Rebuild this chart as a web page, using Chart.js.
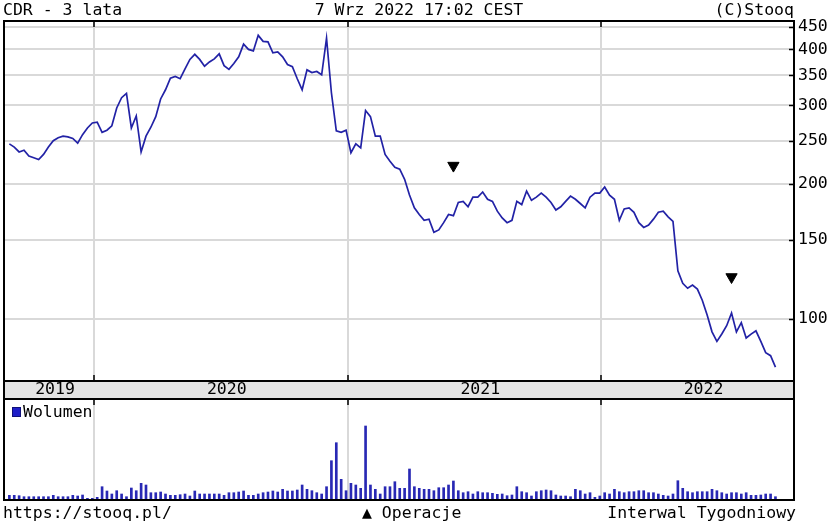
<!DOCTYPE html>
<html>
<head>
<meta charset="utf-8">
<script src="https://cdn.jsdelivr.net/npm/chart.js@4.4.0/dist/chart.umd.min.js"></script>
<style>
  body { margin: 0; background: #fff; }
  #wrap { position: relative; width: 830px; height: 522px; overflow: hidden;
          font-family: 'DejaVu Sans Mono', monospace; font-size: 16.5px; color: #000; }
  canvas { position: absolute; left: 0; }
  .txt { position: absolute; white-space: pre; line-height: 20px; }
  #volKey { position: absolute; left: 12px; top: 407px; width: 7px; height: 8px;
            background: #1e1ec8; border: 1px solid #10107a; }
</style>
</head>
<body>
<div id="wrap">
  <canvas id="price" width="830" height="398" style="top:0"></canvas>
  <canvas id="vol" width="830" height="124" style="top:398px"></canvas>

  <div class="txt" style="left:3px;top:0">CDR - 3 lata</div>
  <div class="txt" style="left:419px;top:0;transform:translateX(-50%)">7 Wrz 2022 17:02 CEST</div>
  <div class="txt" style="right:36px;top:0">(C)Stooq</div>

  <div id="volKey"></div>
  <div class="txt" style="left:23px;top:402px">Wolumen</div>

  <div class="txt" style="left:3px;top:503px">https://stooq.pl/</div>
  <div class="txt" style="left:362px;top:503px">▲ Operacje</div>
  <div class="txt" style="right:34px;top:503px">Interwal Tygodniowy</div>
</div>

<script>
// weekly closes, CDR, Sep 2019 - Sep 2022 (x = week number)
const prices = [
  246, 242, 236, 238, 231, 229, 227, 233, 242, 250,
  254, 256, 255, 253, 247, 258, 267, 274, 275, 261,
  264, 270, 296, 312, 319, 267, 284, 236, 256, 268,
  283, 310, 325, 345, 348, 344, 362, 380, 390, 380,
  367, 375, 381, 391, 368, 361, 372, 385, 411, 400,
  397, 430, 417, 416, 393, 395, 385, 370, 366, 344,
  325, 360, 355, 357, 351, 424, 320, 263, 261, 264,
  235, 246, 241, 292, 283, 256, 256, 233, 225, 218,
  216, 205, 189, 177, 171, 166, 167, 156, 158, 164,
  171, 170, 182, 183, 178, 187, 187, 192, 185, 183,
  174, 168, 164, 166, 183, 180, 193, 184, 187, 191,
  187, 182, 175, 178, 183, 188, 185, 181, 177, 187,
  191, 191, 197, 189, 185, 166, 176, 177, 173, 164,
  160, 162, 167, 173, 174, 169, 165, 128, 120, 117,
  119, 116.5, 110, 102, 93.5, 89, 92.5, 96.5, 103, 93.5,
  98, 90.6, 92.4, 94, 89, 84, 82.7, 78
];

const volume = [
  4.7, 4.7, 4.3, 3.3, 3.3, 3.3, 3.3, 3.3, 3.3, 4.7,
  3.3, 3.3, 3.3, 4.7, 4, 5, 1.7, 1.7, 2.7, 13.3,
  9, 6, 9.3, 6, 3.3, 12, 9.3, 16.7, 15, 7.3,
  7.3, 8, 6, 4.7, 4.7, 5.3, 6, 4, 9, 6,
  6, 6, 6, 6, 4.7, 7.3, 7.3, 8, 9, 4.7,
  4.7, 6, 7.3, 8, 9, 8, 10.7, 9, 9, 10,
  15, 10.7, 9.3, 7.3, 6, 13.3, 39.3, 57.3, 20.7, 9.3,
  16.7, 15, 11.7, 74, 15, 10.7, 6, 13.3, 13.3, 18.3,
  11.7, 11.7, 31, 13.3, 11.7, 10.7, 10.7, 9.3, 12.3, 12.3,
  15, 19, 9.3, 7.3, 8.3, 6, 8.3, 7.3, 7.3, 6.7,
  5.7, 6, 4.3, 5, 13.3, 8.3, 7.3, 4, 8.3, 9.3,
  10, 9.3, 5, 4, 4, 3.3, 10.7, 9.3, 6, 7.3,
  2.7, 4, 7.3, 6, 10.7, 8.3, 7.3, 8.3, 8.3, 9.3,
  9.3, 7.3, 7.3, 6, 4.7, 4, 6, 19.3, 11.7, 8.3,
  7.3, 8.3, 8.3, 8.3, 10.7, 9.3, 7.3, 6, 7.3, 7.3,
  6, 7.3, 4.7, 4.7, 5, 6, 6, 3.3
];

// "Operacje" markers (week, level)
const opWeeks = [91, 148];
const opLevels = [220, 124];

const yearLabels = ['2019', '2020', '2021', '2022'];
const yearStarts = [17.35, 69.3, 121.25];   // week position of 1 Jan
const priceTicks = [100, 150, 200, 250, 300, 350, 400, 450];

const X_MIN = -1.1, X_MAX = 160.8;
const FONT = '16.5px "DejaVu Sans Mono", monospace';
const GRID = '#d9d9d9';

const xs = prices.map((_, i) => i);

function yearGrid(scale) {
  scale.ticks = yearStarts.map(v => ({ value: v }));
}

const priceDeco = {
  id: 'priceDeco',
  afterDraw(chart) {
    const { ctx, chartArea: a, scales } = chart;
    const x = scales.x, y = scales.y;
    ctx.save();
    // year band
    ctx.fillStyle = '#e3e3e3';
    ctx.fillRect(a.left, a.bottom, a.right - a.left, chart.height - a.bottom);
    ctx.strokeStyle = '#000';
    ctx.lineWidth = 2;
    ctx.strokeRect(a.left, a.top, a.right - a.left, a.bottom - a.top);
    ctx.beginPath();
    ctx.moveTo(a.left, a.bottom); ctx.lineTo(a.left, chart.height);
    ctx.moveTo(a.right, a.bottom); ctx.lineTo(a.right, chart.height);
    ctx.stroke();
    // ticks
    ctx.lineWidth = 1.5;
    ctx.beginPath();
    yearStarts.forEach(v => {
      const px = Math.round(x.getPixelForValue(v));
      ctx.moveTo(px, a.top); ctx.lineTo(px, a.top + 6);
      ctx.moveTo(px, a.bottom); ctx.lineTo(px, a.bottom - 6);
    });
    priceTicks.forEach(v => {
      const py = Math.round(y.getPixelForValue(v)) + 0.5;
      ctx.moveTo(a.right - 5, py); ctx.lineTo(a.right, py);
    });
    ctx.stroke();
    // year labels
    const edges = [X_MIN, ...yearStarts, X_MAX];
    ctx.fillStyle = '#000';
    ctx.font = FONT;
    ctx.textAlign = 'center';
    ctx.textBaseline = 'middle';
    yearLabels.forEach((t, i) => {
      const cx = (x.getPixelForValue(edges[i]) + x.getPixelForValue(edges[i + 1])) / 2 + 6;
      ctx.fillText(t, cx, a.bottom + 9);
    });
    ctx.restore();
  }
};

const volDeco = {
  id: 'volDeco',
  afterDraw(chart) {
    const { ctx, chartArea: a, scales } = chart;
    ctx.save();
    ctx.strokeStyle = '#000';
    ctx.lineWidth = 2;
    ctx.strokeRect(a.left, a.top, a.right - a.left, a.bottom - a.top);
    ctx.lineWidth = 1.5;
    ctx.beginPath();
    yearStarts.forEach(v => {
      const px = Math.round(scales.x.getPixelForValue(v));
      ctx.moveTo(px, a.top); ctx.lineTo(px, a.top + 6);
    });
    ctx.stroke();
    ctx.restore();
  }
};

new Chart(document.getElementById('price'), {
  type: 'line',
  data: {
    datasets: [{
      data: prices.map((v, i) => ({ x: xs[i], y: v })),
      borderColor: '#2222a6',
      borderWidth: 1.7,
      pointRadius: 0,
      tension: 0
    }, {
      data: opWeeks.map((w, i) => ({ x: w, y: opLevels[i] })),
      showLine: false,
      pointStyle: 'triangle',
      rotation: 180,
      pointRadius: 6.5,
      backgroundColor: '#000',
      borderColor: '#000',
      borderWidth: 1
    }]
  },
  options: {
    responsive: false,
    animation: false,
    events: [],
    layout: { autoPadding: false, padding: { left: 4, top: 21, right: 0, bottom: 17 } },
    plugins: { legend: { display: false }, tooltip: { enabled: false } },
    scales: {
      x: {
        type: 'linear', min: X_MIN, max: X_MAX,
        afterBuildTicks: yearGrid,
        afterFit: s => { s.height = 0; },
        ticks: { display: false },
        border: { display: false },
        grid: { color: GRID, lineWidth: 2, drawTicks: false }
      },
      y: {
        type: 'logarithmic', position: 'right', min: 72.6, max: 463,
        afterBuildTicks: s => { s.ticks = priceTicks.map(v => ({ value: v })); },
        afterFit: s => { s.width = 36; },
        ticks: {
          autoSkip: false, padding: 4, color: '#000',
          font: { family: '"DejaVu Sans Mono", monospace', size: 16.5 },
          callback: v => String(v)
        },
        border: { display: false },
        grid: { color: GRID, lineWidth: 2, drawTicks: false }
      }
    }
  },
  plugins: [priceDeco]
});

new Chart(document.getElementById('vol'), {
  type: 'bar',
  data: {
    datasets: [{
      data: volume.map((v, i) => ({ x: xs[i], y: v })),
      backgroundColor: '#2828b4',
      barThickness: 2
    }]
  },
  options: {
    responsive: false,
    animation: false,
    events: [],
    layout: { autoPadding: false, padding: { left: 4, top: 1, right: 36, bottom: 22 } },
    plugins: { legend: { display: false }, tooltip: { enabled: false } },
    scales: {
      x: {
        type: 'linear', min: X_MIN, max: X_MAX, offset: false,
        afterBuildTicks: yearGrid,
        afterFit: s => { s.height = 0; },
        ticks: { display: false },
        border: { display: false },
        grid: { color: GRID, lineWidth: 2, drawTicks: false, offset: false }
      },
      y: { display: false, min: 0, max: 101 }
    }
  },
  plugins: [volDeco]
});
</script>
</body>
</html>
